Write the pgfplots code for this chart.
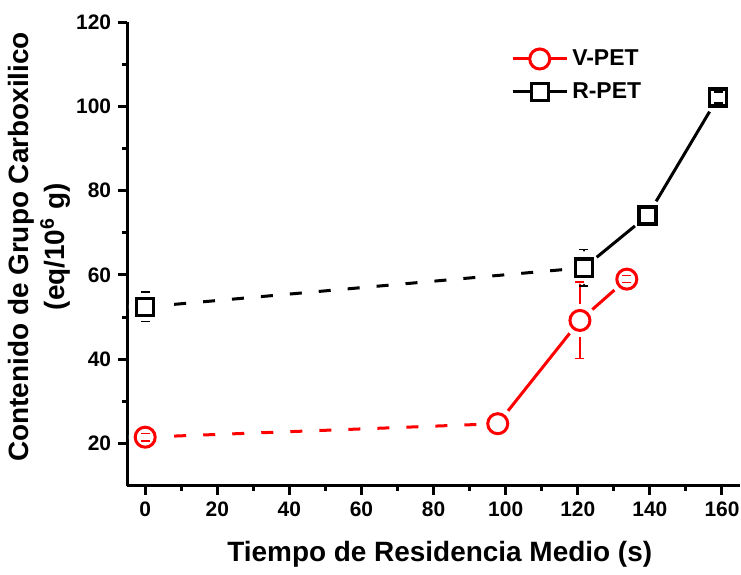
\documentclass[border=0pt]{standalone}
\usepackage{fontspec}
\setmainfont{Liberation Sans}
\usepackage{pgfplots}
\usepackage{pgfplotstable}
\pgfplotsset{compat=1.18}

% residence time (s), carboxyl content (eq/10^6 g), error
\pgfplotstableread{
t      c     e
0      21.5  0.9
97.8   24.7  0.0
120.6  49.2  9.1
133.6  59.0  0.8
}\vpet
\pgfplotstableread{
t      c     e
0      52.4  3.5
121.7  61.7  4.3
139.4  74.1  0.0
158.9  102.1 1.3
}\rpet

\pgfplotsset{
  % vertical error bar lines
  errs/.style={draw=none, mark=none, forget plot,
    error bars/y dir=both, error bars/y explicit,
    error bars/error mark=none,
    error bars/error bar style={draw=#1, solid, line width=0.7bp}},
  % horizontal caps at the ends of the error bars
  caps/.style={only marks, mark=-, mark size=2.25bp, forget plot,
    mark options={draw=#1, solid, line width=0.7bp}},
}

\begin{document}
\begin{tikzpicture}
\begin{axis}[
  scale only axis,
  width=306bp, height=231.5bp,
  xmin=-5, xmax=165, ymin=10, ymax=120,
  axis x line*=bottom, axis y line*=left,
  axis line style={line width=1.5bp, -},
  xtick={0,20,...,160}, ytick={20,40,...,120},
  minor x tick num=1, minor y tick num=1,
  tick align=outside,
  major tick length=4.5bp, minor tick length=2.5bp,
  every tick/.style={black, line width=1.5bp},
  /pgf/number format/assume math mode=true,
  ticklabel style={font=\fontsize{10.5}{12}\selectfont\bfseries},
  xlabel={Tiempo de Residencia Medio (s)},
  ylabel={Contenido de Grupo Carboxilico\\(eq/10\textsuperscript{6} g)},
  label style={font=\fontsize{14}{18}\selectfont\bfseries},
  xlabel style={at={(axis description cs:0.51,-0.164)}, anchor=base},
  ylabel style={at={(axis description cs:-0.0816,0.515)}, anchor=south, align=center},
  legend style={draw=none, fill=none, at={(axis description cs:0.626,0.95)},
    anchor=north west, font=\fontsize{11.5}{13}\selectfont\bfseries,
    row sep=3bp, inner sep=0pt},
  legend cell align=left,
  legend image code/.code={\draw[#1, mark repeat=2, mark phase=2]
    plot coordinates {(0bp,0bp) (13.5bp,0bp) (27bp,0bp)};},
  clip=false,
]
% connecting lines: dashed up to the first processed sample, solid after
\addplot[red, line width=1.5bp, dash pattern=on 6bp off 8.5bp, forget plot,
  skip coords between index={2}{4}] table[x=t, y=c]{\vpet};
\addplot[red, line width=1.5bp, forget plot,
  skip coords between index={0}{1}] table[x=t, y=c]{\vpet};
\addplot[black, line width=1.5bp, dash pattern=on 6bp off 8.5bp, forget plot,
  skip coords between index={2}{4}] table[x=t, y=c]{\rpet};
\addplot[black, line width=1.5bp, forget plot,
  skip coords between index={0}{1}] table[x=t, y=c]{\rpet};
% white halos leave a gap between lines and markers
\addplot[only marks, mark=*, mark size=8bp, mark options={draw=white, fill=white}, forget plot]
  table[x=t, y=c]{\vpet};
\addplot[only marks, mark=*, mark size=8bp, mark options={draw=white, fill=white}, forget plot]
  table[x=t, y=c]{\rpet};
% error bars reaching beyond the markers
\addplot[errs=red, restrict x to domain=110:125] table[x=t, y=c, y error=e]{\vpet};
\addplot[caps=red, restrict x to domain=110:125]
  table[x=t, y expr=\thisrow{c}+\thisrow{e}]{\vpet};
\addplot[caps=red, restrict x to domain=110:125]
  table[x=t, y expr=\thisrow{c}-\thisrow{e}]{\vpet};
\addplot[errs=black, restrict x to domain=-1:130] table[x=t, y=c, y error=e]{\rpet};
\addplot[caps=black, restrict x to domain=-1:130]
  table[x=t, y expr=\thisrow{c}+\thisrow{e}]{\rpet};
\addplot[caps=black, restrict x to domain=-1:130]
  table[x=t, y expr=\thisrow{c}-\thisrow{e}]{\rpet};
% markers
\addplot[only marks, mark=*, mark size=5bp, line width=1.5bp,
  mark options={draw=red, fill=white}, forget plot] table[x=t, y=c]{\vpet};
\addplot[only marks, mark=square*, mark size=4.25bp, line width=1.75bp,
  mark options={draw=black, fill=white}, forget plot] table[x=t, y=c]{\rpet};
% small error bars lying inside the markers
\addplot[errs=red, skip coords between index={1}{3}] table[x=t, y=c, y error=e]{\vpet};
\addplot[caps=red, skip coords between index={1}{3}]
  table[x=t, y expr=\thisrow{c}+\thisrow{e}]{\vpet};
\addplot[caps=red, skip coords between index={1}{3}]
  table[x=t, y expr=\thisrow{c}-\thisrow{e}]{\vpet};
\addplot[errs=black, skip coords between index={0}{3}] table[x=t, y=c, y error=e]{\rpet};
\addplot[caps=black, skip coords between index={0}{3}]
  table[x=t, y expr=\thisrow{c}+\thisrow{e}]{\rpet};
\addplot[caps=black, skip coords between index={0}{3}]
  table[x=t, y expr=\thisrow{c}-\thisrow{e}]{\rpet};
% legend
\addlegendimage{red, line width=1.5bp, mark=*, mark size=5bp,
  mark options={draw=red, fill=white, solid}}
\addlegendentry{V-PET}
\addlegendimage{black, line width=1.5bp, mark=square*, mark size=4.25bp,
  mark options={draw=black, fill=white, solid}}
\addlegendentry{R-PET}
\coordinate (sw) at (rel axis cs:0,0);
\coordinate (ne) at (rel axis cs:1,1);
\end{axis}
\pgfresetboundingbox
\path ([shift={(-63.5bp,-44.5bp)}]sw) rectangle ([shift={(0.5bp,11bp)}]ne);
\end{tikzpicture}
\end{document}
